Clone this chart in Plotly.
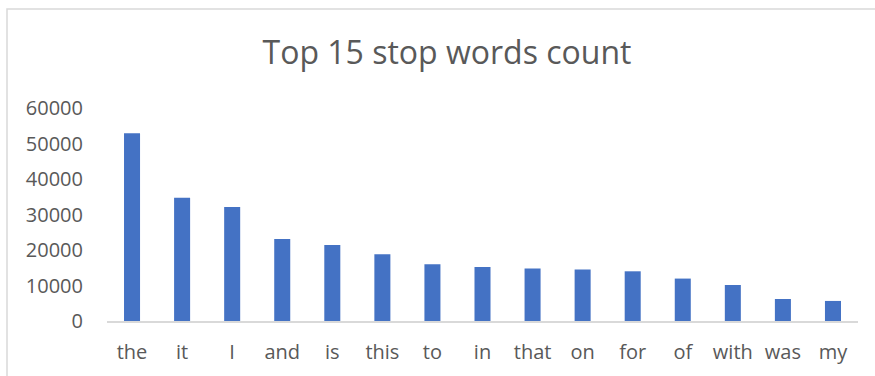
import plotly.graph_objects as go

words = ["the", "it", "I", "and", "is", "this", "to", "in", "that", "on",
         "for", "of", "with", "was", "my"]
counts = [52900, 34700, 32100, 23100, 21400, 18800, 16000, 15200, 14800, 14500,
          14000, 11950, 10150, 6200, 5650]
y_ticks = [0, 10000, 20000, 30000, 40000, 50000, 60000]
y_tick_labels = [str(v) for v in y_ticks]

W, H = 875, 376
L, R, T, B = 107, 17, 108, 55
pw, ph = W - L - R, H - T - B

fig = go.Figure(go.Bar(x=words, y=counts, marker=dict(color="#4472C4", line=dict(width=0)),
                       width=0.32))

font_family = "Open Sans"
txt = "#595959"

fig.update_layout(
    width=W, height=H,
    margin=dict(l=L, r=R, t=T, b=B),
    paper_bgcolor="white", plot_bgcolor="white",
    showlegend=False,
    font=dict(family=font_family, color=txt),
    title=dict(text="Top 15 stop words count", x=447 / W, xanchor="center",
               y=1 - 53 / H, yanchor="middle", xref="container", yref="container",
               font=dict(size=32, color=txt, family=font_family)),
    xaxis=dict(showline=True, linecolor="#D9D9D9", linewidth=1.5, showgrid=False,
               ticks="", tickfont=dict(size=20, color=txt), ticklabelstandoff=12,
               zeroline=False),
    yaxis=dict(range=[0, 60000], tickvals=y_ticks, ticktext=y_tick_labels,
               showgrid=False, showline=False,
               zeroline=False, ticks="", tickfont=dict(size=20, color=txt),
               ticklabelstandoff=23),
    shapes=[dict(type="rect", xref="paper", yref="paper",
                 x0=(7 - L) / pw, x1=(W + 20 - L) / pw,
                 y0=-1.0, y1=(H - B - 9) / ph,
                 line=dict(color="#D9D9D9", width=1.5), layer="below")],
)

fig.write_html("out.html")
